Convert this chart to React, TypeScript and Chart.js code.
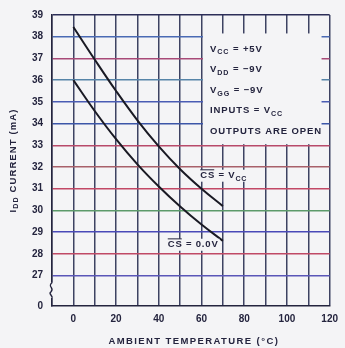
import React, { useEffect, useRef } from 'react';
import { Chart, registerables } from 'chart.js';

Chart.register(...registerables);

// ---- data ----
const temperatures = [0, 10, 20, 30, 40, 50, 60, 70];
const csVccCurrent = [38.45, 36.95, 35.5, 34.15, 32.95, 31.9, 31.0, 30.2];
const cs00Current = [36.0, 34.58, 33.28, 32.12, 31.1, 30.18, 29.35, 28.6];
const yTickValues = [27, 28, 29, 30, 31, 32, 33, 34, 35, 36, 37, 38, 39];
const yBreakValue = 25.6; // axis origin shown as "0" below the break
const xTickLabels = [0, 20, 40, 60, 80, 100, 120];
const xMin = -10;
const xMax = 120;

type Seg = { t: string; sub?: boolean; bar?: boolean };
const conditionLines: Seg[][] = [
  [{ t: 'V' }, { t: 'CC', sub: true }, { t: ' = +5V' }],
  [{ t: 'V' }, { t: 'DD', sub: true }, { t: ' = \u22129V' }],
  [{ t: 'V' }, { t: 'GG', sub: true }, { t: ' = \u22129V' }],
  [{ t: 'INPUTS = V' }, { t: 'CC', sub: true }],
  [{ t: 'OUTPUTS ARE OPEN' }],
];
const labelCsVcc: Seg[] = [{ t: 'CS', bar: true }, { t: ' = V' }, { t: 'CC', sub: true }];
const labelCs00: Seg[] = [{ t: 'CS', bar: true }, { t: ' = 0.0V' }];
const yTitle: Seg[] = [{ t: 'I' }, { t: 'DD', sub: true }, { t: ' CURRENT (mA)' }];
const xTitle: Seg[] = [{ t: 'AMBIENT TEMPERATURE (\u00B0C)' }];

// ---- styles ----
const BG = '#f4f4f6';
const INK = '#24243e';
const CURVE = '#1a1a24';
const FONT = '"Liberation Sans", Arial, sans-serif';
const TICK_FONT = '"Liberation Sans Narrow", "Liberation Sans", Arial, sans-serif';
const hGridColors: Record<number, string> = {
  27: '#5a56b8', 28: '#c04a66', 29: '#4a4ab8', 30: '#5c9a6a', 31: '#c24866',
  32: '#a8606a', 33: '#b84a6a', 34: '#3c56a8', 35: '#4a5cb4', 36: '#5684a8',
  37: '#a84a78', 38: '#4a6ab4', 39: '#2c2e58',
};

function richWidth(ctx: CanvasRenderingContext2D, segs: Seg[], size: number, spacing: number) {
  let w = 0;
  for (const s of segs) {
    const fs = s.sub ? size * 0.75 : size;
    ctx.font = `bold ${fs}px ${FONT}`;
    (ctx as any).letterSpacing = `${spacing}px`;
    w += ctx.measureText(s.t).width;
  }
  return w;
}

function drawRich(ctx: CanvasRenderingContext2D, segs: Seg[], x: number, y: number, size: number, spacing: number) {
  let cx = x;
  ctx.textBaseline = 'middle';
  ctx.textAlign = 'left';
  for (const s of segs) {
    const fs = s.sub ? size * 0.75 : size;
    ctx.font = `bold ${fs}px ${FONT}`;
    (ctx as any).letterSpacing = `${spacing}px`;
    const w = ctx.measureText(s.t).width;
    ctx.fillText(s.t, cx, y + (s.sub ? size * 0.35 : 0));
    if (s.bar) {
      ctx.beginPath();
      ctx.lineWidth = 1;
      ctx.moveTo(cx, y - size * 0.62);
      ctx.lineTo(cx + w - spacing, y - size * 0.62);
      ctx.strokeStyle = ctx.fillStyle as string;
      ctx.stroke();
    }
    cx += w;
  }
  return cx - x;
}

const decorPlugin = {
  id: 'decor',
  beforeDatasetsDraw(chart: any) {
    const { ctx, scales } = chart;
    const xs = scales.x;
    const ys = scales.y;
    ctx.save();
    // conditions box
    const bx0 = xs.getPixelForValue(60.7);
    const bx1 = xs.getPixelForValue(116.2);
    const by0 = ys.getPixelForValue(38.15);
    const by1 = ys.getPixelForValue(33.05);
    ctx.fillStyle = BG;
    ctx.fillRect(bx0, by0, bx1 - bx0, by1 - by0);
    ctx.fillStyle = INK;
    const tx = xs.getPixelForValue(64);
    const lineVals = [37.44, 36.48, 35.52, 34.6, 33.64];
    conditionLines.forEach((segs, i) => {
      drawRich(ctx, segs, tx, ys.getPixelForValue(lineVals[i]), 9.5, 0.9);
    });
    ctx.restore();
  },
  afterDraw(chart: any) {
    const { ctx, scales, chartArea } = chart;
    const xs = scales.x;
    const ys = scales.y;
    ctx.save();
    // curve labels
    const drawLabel = (segs: Seg[], xv: number, yv: number) => {
      const x = xs.getPixelForValue(xv);
      const y = ys.getPixelForValue(yv);
      const w = richWidth(ctx, segs, 9.5, 0.8);
      ctx.fillStyle = BG;
      ctx.fillRect(x - 1, y - 6, w + 2, 12);
      ctx.fillStyle = INK;
      drawRich(ctx, segs, x, y, 9.5, 0.8);
    };
    drawLabel(labelCsVcc, 59.4, 31.6);
    drawLabel(labelCs00, 44.2, 28.42);

    // axis break squiggle
    const yb = ys.getPixelForValue(26.3);
    const xl = chartArea.left;
    ctx.fillStyle = BG;
    ctx.fillRect(xl - 3, yb - 8, 6, 15);
    ctx.strokeStyle = INK;
    ctx.lineWidth = 1.4;
    ctx.beginPath();
    ctx.moveTo(xl, yb - 8);
    ctx.bezierCurveTo(xl - 5, yb - 4, xl + 3, yb - 3, xl - 1, yb + 1);
    ctx.bezierCurveTo(xl - 4, yb + 3, xl + 1, yb + 5, xl, yb + 7);
    ctx.stroke();

    // titles
    ctx.fillStyle = INK;
    const ty = 341;
    const xw = richWidth(ctx, xTitle, 9.5, 1.4);
    drawRich(ctx, xTitle, (chartArea.left + chartArea.right) / 2 + 3 - xw / 2, ty, 9.5, 1.4);

    ctx.translate(13, (chartArea.top + chartArea.bottom) / 2);
    ctx.rotate(-Math.PI / 2);
    const yw = richWidth(ctx, yTitle, 9.5, 1.1);
    drawRich(ctx, yTitle, -yw / 2, 0, 9.5, 1.1);
    ctx.restore();
  },
};

export default function App() {
  const ref = useRef<HTMLCanvasElement>(null);
  useEffect(() => {
    document.body.style.margin = '0';
    document.body.style.background = BG;
    const canvas = ref.current!;
    const chart = new Chart(canvas, {
      type: 'line',
      data: {
        datasets: [
          {
            label: 'CS = VCC',
            data: temperatures.map((t, i) => ({ x: t, y: csVccCurrent[i] })),
            borderColor: CURVE,
            borderWidth: 2,
            pointRadius: 0,
            tension: 0.4,
            fill: false,
          },
          {
            label: 'CS = 0.0V',
            data: temperatures.map((t, i) => ({ x: t, y: cs00Current[i] })),
            borderColor: CURVE,
            borderWidth: 2,
            pointRadius: 0,
            tension: 0.4,
            fill: false,
          },
        ],
      },
      options: {
        animation: false,
        responsive: false,
        devicePixelRatio: 1,
        layout: { padding: { top: 13, right: 9, left: 0, bottom: 0 } },
        plugins: { legend: { display: false }, tooltip: { enabled: false } },
        scales: {
          x: {
            type: 'linear',
            min: xMin,
            max: xMax,
            afterFit: (s: any) => { s.height = 42; },
            ticks: {
              stepSize: 10,
              padding: 7,
              color: INK,
              font: { family: TICK_FONT, size: 10, weight: 'bold' },
              maxRotation: 0,
              autoSkip: false,
              callback: (v: any) => (xTickLabels.includes(Number(v)) ? String(v) : ''),
            },
            grid: { color: '#3d4262', lineWidth: 1.5, drawTicks: false },
            border: { display: true, color: INK, width: 1.5 },
          },
          y: {
            type: 'linear',
            min: yBreakValue,
            max: 39,
            afterFit: (s: any) => { s.width = 52; },
            afterBuildTicks: (s: any) => {
              s.ticks = [yBreakValue, ...yTickValues].map((v) => ({ value: v }));
            },
            ticks: {
              padding: 9,
              color: INK,
              font: { family: TICK_FONT, size: 10, weight: 'bold' },
              autoSkip: false,
              callback: (v: any) => (Number(v) < 26 ? '0' : String(v)),
            },
            grid: {
              lineWidth: 1.5,
              drawTicks: false,
              color: (c: any) => hGridColors[c.tick?.value] ?? 'rgba(0,0,0,0)',
            },
            border: { display: true, color: INK, width: 1.5 },
          },
        },
      },
      plugins: [decorPlugin],
    });
    return () => chart.destroy();
  }, []);
  return (
    <div style={{ position: 'absolute', left: 0, top: 0, width: 345, height: 348, background: BG }}>
      <canvas ref={ref} width={345} height={348} />
    </div>
  );
}
